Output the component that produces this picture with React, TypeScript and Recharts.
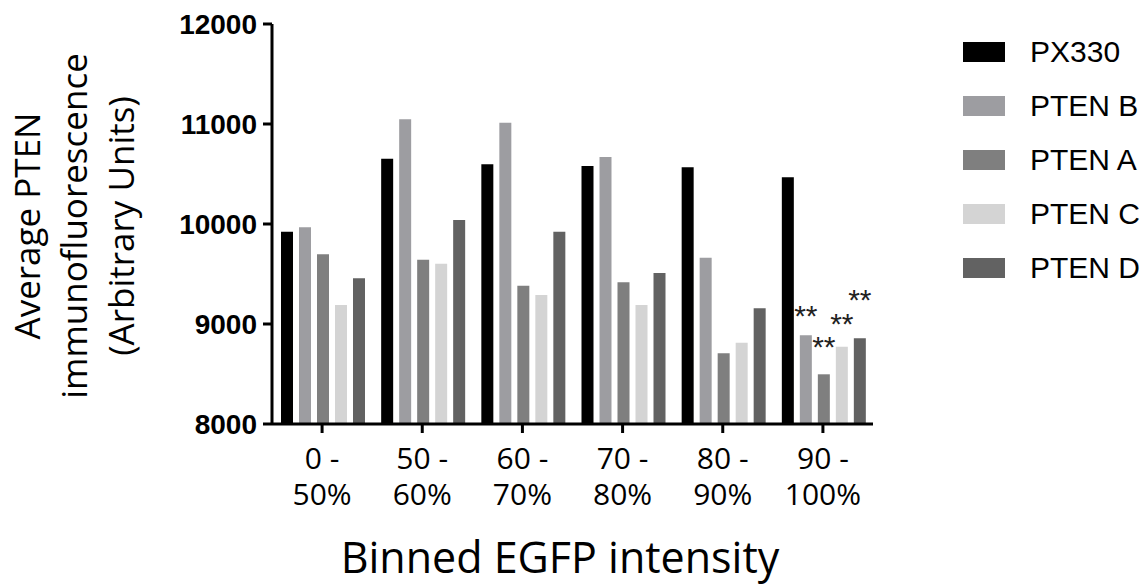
import { BarChart, Bar, XAxis, YAxis, LabelList } from 'recharts';

const BIN_LOW = ['0', '50', '60', '70', '80', '90'];
const BIN_HIGH = ['50%', '60%', '70%', '80%', '90%', '100%'];

const PX330 = [9923, 10653, 10597, 10580, 10567, 10467];
const PTEN_B = [9967, 11047, 11013, 10670, 9663, 8887];
const PTEN_A = [9697, 9643, 9383, 9417, 8707, 8497];
const PTEN_C = [9190, 9603, 9290, 9190, 8813, 8773];
const PTEN_D = [9457, 10040, 9923, 9510, 9157, 8857];

// significance marks (vs PX330), only the top bin is marked
const SIG_B = ['', '', '', '', '', '**'];
const SIG_A = ['', '', '', '', '', '**'];
const SIG_C = ['', '', '', '', '', '**'];
const SIG_D = ['', '', '', '', '', '**'];

const Y_TICKS = [8000, 9000, 10000, 11000, 12000];

const SERIES = [
  { key: 'px330', name: 'PX330', color: '#000000', values: PX330, sig: null, sigLift: 0 },
  { key: 'ptenB', name: 'PTEN B', color: '#9d9da1', values: PTEN_B, sig: SIG_B, sigLift: 9 },
  { key: 'ptenA', name: 'PTEN A', color: '#7f7f7f', values: PTEN_A, sig: SIG_A, sigLift: 17 },
  { key: 'ptenC', name: 'PTEN C', color: '#d4d4d4', values: PTEN_C, sig: SIG_C, sigLift: 13 },
  { key: 'ptenD', name: 'PTEN D', color: '#626262', values: PTEN_D, sig: SIG_D, sigLift: 28 },
];

const data = BIN_LOW.map((low, i) => {
  const row: Record<string, any> = { bin: `${low} - ${BIN_HIGH[i]}` };
  SERIES.forEach((s) => {
    row[s.key] = s.values[i];
    if (s.sig) row[`${s.key}Sig`] = s.sig[i];
  });
  return row;
});

const SANS = '"Open Sans", sans-serif';
const ARIAL = '"Liberation Sans", Arial, sans-serif';

function XTick(props: any) {
  const { x, y, index } = props;
  return (
    <text x={x} y={y + 36} textAnchor="middle" fontFamily={SANS} fontSize={30} fill="#000">
      <tspan x={x}>{`${BIN_LOW[index]} -`}</tspan>
      <tspan x={x} dy={36}>
        {BIN_HIGH[index]}
      </tspan>
    </text>
  );
}

function YTitle() {
  const lines = ['Average PTEN', 'immunofluorescence', '(Arbitrary Units)'];
  const baselines = [40, 87, 134];
  return (
    <g>
      {lines.map((l, i) => (
        <text
          key={l}
          transform="rotate(-90)"
          x={-226}
          y={baselines[i]}
          textAnchor="middle"
          fontFamily={SANS}
          fontSize={35}
          fill="#000"
        >
          {l}
        </text>
      ))}
    </g>
  );
}

function LegendBox() {
  return (
    <div style={{ position: 'absolute', left: 963, top: 25 }}>
      {SERIES.map((s) => (
        <div key={s.key} style={{ display: 'flex', alignItems: 'center', height: 54 }}>
          <div style={{ width: 42, height: 20, background: s.color }} />
          <span style={{ marginLeft: 25, fontFamily: ARIAL, fontSize: 30, color: '#000', whiteSpace: 'nowrap' }}>
            {s.name}
          </span>
        </div>
      ))}
    </div>
  );
}

const sigLabel = (lift: number) => (props: any) => {
  const { x, y, width, value } = props;
  if (!value) return null;
  return (
    <text x={x + width / 2} y={y - lift} textAnchor="middle" fontFamily={ARIAL} fontSize={30} fill="#222">
      {value}
    </text>
  );
};

export default function App() {
  return (
    <div style={{ position: 'absolute', left: 0, top: 0, width: 1148, height: 585 }}>
      <BarChart
        width={1148}
        height={585}
        data={data}
        margin={{ top: 24, right: 275, left: 0, bottom: 0 }}
        barCategoryGap={9}
        barGap={6}
      >
        <XAxis
          dataKey="bin"
          height={161}
          stroke="#000"
          strokeWidth={3}
          tickSize={9}
          tickMargin={0}
          tick={<XTick />}
          interval={0}
        />
        <YAxis
          width={272}
          domain={[8000, 12000]}
          ticks={Y_TICKS}
          stroke="#000"
          strokeWidth={3}
          tickSize={9}
          tickMargin={6}
          tick={{ fontFamily: ARIAL, fontSize: 28, fontWeight: 'bold', fill: '#000' }}
          label={{ content: () => <YTitle /> }}
        />
        {SERIES.map((s) => (
          <Bar key={s.key} dataKey={s.key} name={s.name} fill={s.color} isAnimationActive={false}>
            {s.sig && <LabelList dataKey={`${s.key}Sig`} content={sigLabel(s.sigLift)} />}
          </Bar>
        ))}
      </BarChart>
      <svg width={1148} height={585} style={{ position: 'absolute', left: 0, top: 0, pointerEvents: 'none' }}>
        <text x={560} y={573} textAnchor="middle" fontFamily={SANS} fontSize={43} fill="#000">
          Binned EGFP intensity
        </text>
      </svg>
      <LegendBox />
    </div>
  );
}
